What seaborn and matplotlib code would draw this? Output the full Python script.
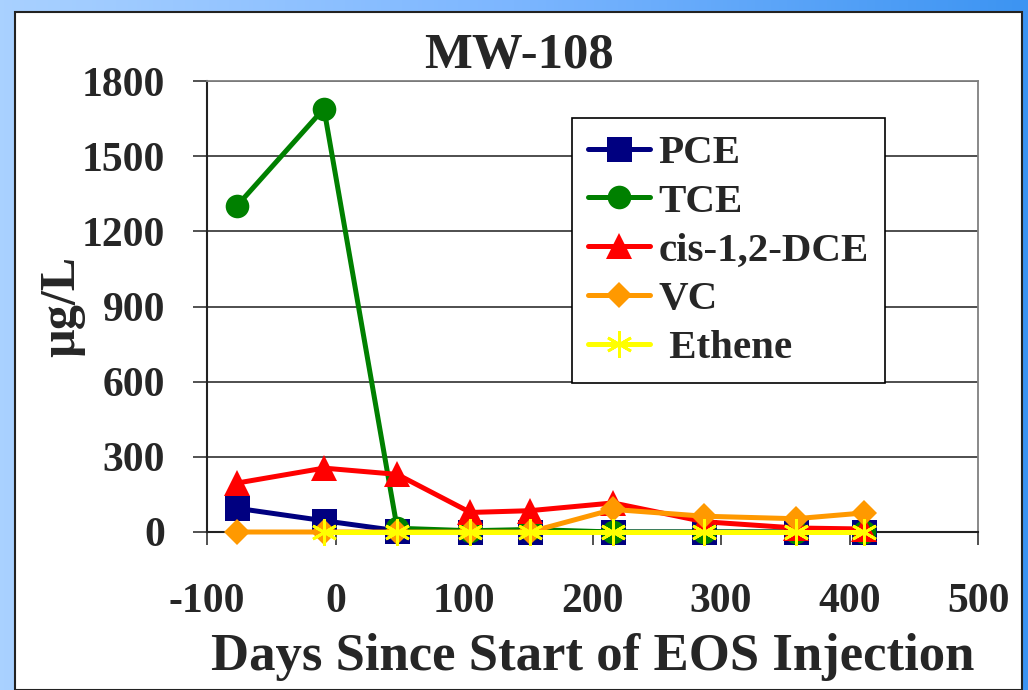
import numpy as np
import pandas as pd
import matplotlib
matplotlib.use("Agg")
import matplotlib.pyplot as plt
import seaborn as sns
from matplotlib.patches import Rectangle
from matplotlib.colors import LinearSegmentedColormap

days = [-77, -9, 48, 105, 151, 216, 287, 358, 411]
pce = [95, 45, 5, 0, 0, 0, 0, 0, 0]
tce = [1300, 1690, 15, 5, 10, 0, 0, 0, 0]
dce = [195, 255, 230, 78, 85, 116, 41, 16, 12]
vc = [0, 0, 0, 0, 0, 90, 63, 53, 76]
ethene = [np.nan, 0, 0, 0, 0, 0, 0, 0, 0]

series_names = ["PCE", "TCE", "cis-1,2-DCE", "VC", " Ethene"]
x_ticks = [-100, 0, 100, 200, 300, 400, 500]
y_ticks = [0, 300, 600, 900, 1200, 1500, 1800]

sns.set_style("white")
plt.rcParams['font.family'] = ['Liberation Serif', 'DejaVu Serif']
plt.rcParams['font.weight'] = 'bold'

fig = plt.figure(figsize=(10.28, 6.9), dpi=100)

# background gradient frame
bg = fig.add_axes([0, 0, 1, 1], zorder=-10)
grad = np.linspace(0, 1, 256).reshape(1, -1)
cmap = LinearSegmentedColormap.from_list("bg", ["#a9d1ff", "#7cb6ff", "#3c94f2"])
bg.imshow(grad, aspect='auto', cmap=cmap, extent=[0, 1, 0, 1])
bg.add_patch(Rectangle((15/1028, 0), (1022-15)/1028, (690-12)/690,
                       facecolor='white', edgecolor='#222222', lw=1.5))
bg.set_xlim(0, 1); bg.set_ylim(0, 1)
bg.axis('off')

ax = fig.add_axes([207/1028, (690-532)/690, (978-207)/1028, (532-81)/690])
ax.set_facecolor('white')

data = {
    "PCE": pce, "TCE": tce, "cis-1,2-DCE": dce, "VC": vc, " Ethene": ethene,
}
styles = {
    "PCE": dict(color="#000080", marker="s", markersize=18),
    "TCE": dict(color="#008000", marker="o", markersize=17),
    "cis-1,2-DCE": dict(color="#ff0000", marker="^", markersize=19),
    "VC": dict(color="#ff9900", marker="D", markersize=13),
    " Ethene": dict(color="#ffff00", marker=(6, 2, 0), markersize=19, markeredgewidth=2),
}
for name in series_names:
    df = pd.DataFrame({"days": days, "val": data[name]}).dropna()
    st = styles[name]
    sns.lineplot(data=df, x="days", y="val", ax=ax, label=name,
                 color=st["color"], marker=st["marker"], markersize=st["markersize"],
                 markeredgewidth=st.get("markeredgewidth", 0),
                 markeredgecolor=st["color"], markerfacecolor=st["color"],
                 linewidth=3.6, clip_on=False, zorder=3)

ax.set_xlim(-100, 500)
ax.set_ylim(0, 1800)
ax.set_xticks(x_ticks)
ax.set_yticks(y_ticks)
ax.set_xticklabels([str(t) for t in x_ticks])
ax.set_yticklabels([str(t) for t in y_ticks])
ax.tick_params(axis='x', direction='out', length=9.5, width=1.2, color='#333333',
               pad=27, labelsize=30, bottom=True)
ax.tick_params(axis='y', direction='out', length=10, width=1.2, color='#333333',
               pad=20, labelsize=30, left=True)
for lab in ax.get_xticklabels() + ax.get_yticklabels():
    lab.set_fontweight('bold')

ax.grid(axis='y', color='#404040', lw=1.3)
ax.grid(axis='x', visible=False)
ax.set_axisbelow(True)
for s in ['top', 'right']:
    ax.spines[s].set_color('#808080'); ax.spines[s].set_linewidth(1.3)
for s in ['left', 'bottom']:
    ax.spines[s].set_color('#222222'); ax.spines[s].set_linewidth(1.5)

fig.text(519/1028, (690-68)/690, "MW-108", fontsize=36.5, fontweight='bold',
         ha='center', va='baseline')
ax.set_xlabel("Days Since Start of EOS Injection", fontsize=38, fontweight='bold', labelpad=9)
ax.set_ylabel("µg/L", fontsize=36, fontweight='bold', labelpad=-2)

leg = ax.legend(loc='upper left', bbox_to_anchor=(0.473, 0.918), fontsize=29.5,
                frameon=True, fancybox=False, edgecolor='black', framealpha=1,
                handlelength=1.5, handletextpad=0.22, labelspacing=0.27,
                borderpad=0.4, borderaxespad=0)
leg.get_frame().set_linewidth(1.2)
for t in leg.get_texts():
    t.set_fontweight('bold')

fig.savefig("out.png", dpi=100)
